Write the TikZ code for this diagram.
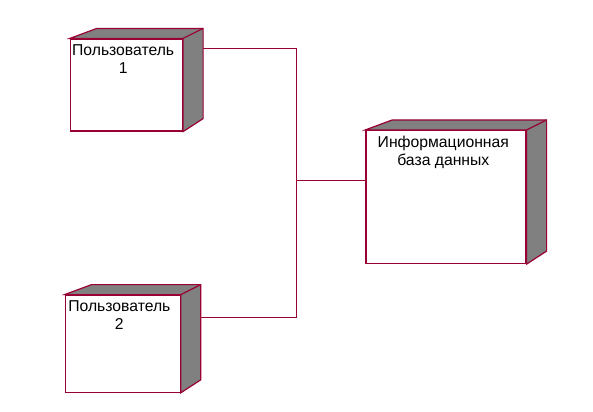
\documentclass[tikz,border=0pt]{standalone}
\usepackage{fontspec}
\setmainfont{Liberation Sans}
\usetikzlibrary{calc}
\definecolor{bordeaux}{RGB}{153,0,51}
\definecolor{ombre}{RGB}{128,128,128}

\begin{document}
\begin{tikzpicture}[x=0.75pt, y=-0.75pt,
        noeud/.style={rectangle, draw=bordeaux, fill=white, line width=0.9pt, inner sep=0pt},
        titre/.style={font=\fontsize{11.8}{13.3}\selectfont, align=center, inner sep=2pt},
        cote/.style={draw=bordeaux, fill=ombre, line width=0.9pt},
        lien/.style={draw=bordeaux, line width=0.75pt}]
        \useasboundingbox (0,0) rectangle (593,411);

        % Les noeuds
        \node (u1) [noeud, minimum width=84pt, minimum height=69pt,
            label={[titre, name=u1t, anchor=north, xshift=-2.5pt, yshift=-2.5pt]north:{Пользователь\\1}}] at (126.5,85) {};
        \node (u2) [noeud, minimum width=86.25pt, minimum height=72.75pt,
            label={[titre, name=u2t, anchor=north, xshift=-2.5pt, yshift=-2.5pt]north:{Пользователь\\2}}] at (122.7,343.7) {};
        \node (bd) [noeud, minimum width=120pt, minimum height=99.75pt,
            label={[titre, name=bdt, anchor=north, xshift=-2pt, yshift=-2.5pt]north:{Информационная\\база данных}}] at (446,197) {};

        % Les faces
        \foreach \n in {u1,u2,bd} {
            \filldraw[cote] (\n.north west) -- ++(27,-10) -- ($(\n.north east)+(20,-10)$)
                -- ($(\n.south east)+(20,-13)$) -- (\n.south east) -- (\n.north east) -- cycle;
            \draw[cote] (\n.north east) -- ++(20,-10);
        }

        % Les liens
        \coordinate (j) at (296,180.5);
        \draw[lien] ([xshift=15pt,yshift=-7.5pt]u1.north east) -| (j);
        \draw[lien] ([xshift=15pt,yshift=-17pt]u2.north east) -| (j);
        \draw[lien] (j) -- (bd.west |- j);
    \end{tikzpicture}
\end{document}
